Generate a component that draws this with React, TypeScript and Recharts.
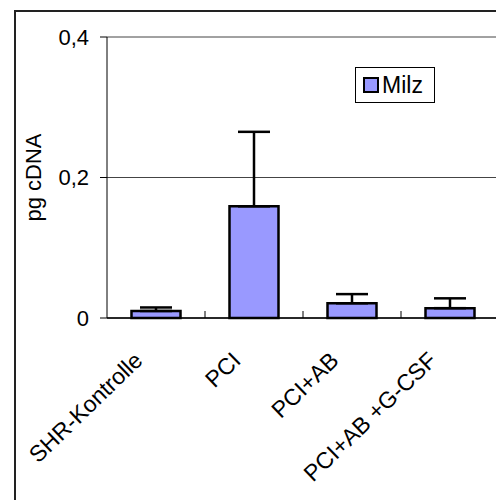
import React from "react";
import {
  BarChart,
  Bar,
  XAxis,
  YAxis,
  CartesianGrid,
  ErrorBar,
  Legend,
  Label,
} from "recharts";

const categories = ["SHR-Kontrolle", "PCI", "PCI+AB", "PCI+AB +G-CSF"];
const milzValues = [0.01, 0.159, 0.021, 0.014];
const milzErrors = [0.005, 0.106, 0.013, 0.014];
const yTicks = [0, 0.2, 0.4];

const FONT = "'Liberation Sans', Arial, sans-serif";
const BAR_FILL = "#9999FF";

const data = categories.map((name, i) => ({
  name,
  milz: milzValues[i],
  err: [0, milzErrors[i]],
}));

function CategoryTick(props: any) {
  const { x, y, payload, index } = props;
  const half = payload.offset ?? 0;
  const tx = x - 12;
  const ty = y + 44;
  return (
    <g>
      {index > 0 && (
        <line x1={x - half} y1={y} x2={x - half} y2={y - 7} stroke="#000" strokeWidth={1} />
      )}
      <text
        x={tx}
        y={ty}
        textAnchor="end"
        transform={`rotate(-44 ${tx} ${ty})`}
        fontFamily={FONT}
        fontSize={23}
        fill="#000"
      >
        {payload.value}
      </text>
    </g>
  );
}

function YTitle(props: any) {
  const { viewBox } = props;
  const cx = viewBox.x + 33;
  const cy = viewBox.y + viewBox.height / 2;
  return (
    <text
      x={cx}
      y={cy}
      textAnchor="middle"
      dominantBaseline="central"
      transform={`rotate(-90 ${cx} ${cy})`}
      fontFamily={FONT}
      fontSize={22}
      fill="#000"
    >
      pg cDNA
    </text>
  );
}

function MilzLegend() {
  return (
    <div
      style={{
        display: "flex",
        alignItems: "center",
        border: "1px solid #000",
        background: "#fff",
        width: 80,
        height: 36,
        boxSizing: "border-box",
        paddingLeft: 7,
        fontFamily: FONT,
        fontSize: 23,
      }}
    >
      <span
        style={{
          display: "inline-block",
          width: 12,
          height: 12,
          background: BAR_FILL,
          border: "2.5px solid #000",
          marginRight: 3,
        }}
      />
      <span>Milz</span>
    </div>
  );
}

export default function App() {
  return (
    <div
      style={{
        position: "fixed",
        left: 0,
        top: 0,
        width: 496,
        height: 500,
        overflow: "hidden",
        background: "#fff",
      }}
    >
      <div
        style={{
          position: "absolute",
          left: 14,
          top: 10,
          width: 700,
          height: 700,
          borderLeft: "2px solid #222",
          borderTop: "2px solid #222",
        }}
      />
      <div style={{ position: "absolute", left: 0, top: 0 }}>
        <BarChart
          width={520}
          height={520}
          data={data}
          margin={{ top: 37, right: 21, left: 0, bottom: 141 }}
          barCategoryGap="25%"
        >
          <CartesianGrid vertical={false} stroke="#444" strokeWidth={1} />
          <XAxis
            dataKey="name"
            height={61}
            tick={<CategoryTick />}
            tickLine={false}
            tickSize={0}
            tickMargin={0}
            axisLine={{ stroke: "#000", strokeWidth: 1.5 }}
            interval={0}
          />
          <YAxis
            width={107}
            domain={[0, 0.4]}
            ticks={yTicks}
            tickFormatter={(v: number) => String(v).replace(".", ",")}
            tick={{ fontFamily: FONT, fontSize: 22, fill: "#000" }}
            tickSize={7}
            tickMargin={11}
            tickLine={{ stroke: "#000" }}
            axisLine={{ stroke: "#000" }}
          >
            <Label content={<YTitle />} />
          </YAxis>
          <Legend
            layout="horizontal"
            align="center"
            verticalAlign="middle"
            wrapperStyle={{ left: 355, top: 67, width: 80 }}
            content={<MilzLegend />}
          />
          <Bar
            dataKey="milz"
            name="Milz"
            fill={BAR_FILL}
            stroke="#000"
            strokeWidth={2.5}
            isAnimationActive={false}
          >
            <ErrorBar
              dataKey="err"
              direction="y"
              width={16}
              stroke="#000"
              strokeWidth={2.5}
            />
          </Bar>
        </BarChart>
      </div>
    </div>
  );
}
